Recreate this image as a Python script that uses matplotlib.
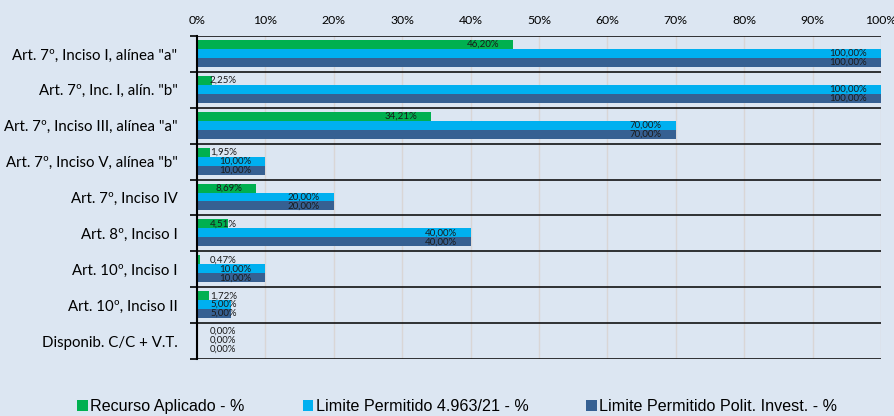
import matplotlib
matplotlib.use("Agg")
import matplotlib.pyplot as plt
import matplotlib.transforms as mtransforms
from matplotlib.patches import Patch
import numpy as np

categories = ['Art. 7º, Inciso I, alínea "a"', 'Art. 7º, Inc. I, alín. "b"',
              'Art. 7º, Inciso III, alínea "a"', 'Art. 7º, Inciso V, alínea "b"',
              'Art. 7º, Inciso IV', 'Art. 8º, Inciso I', 'Art. 10º, Inciso I',
              'Art. 10º, Inciso II', 'Disponib. C/C + V.T.']
recurso = [46.20, 2.25, 34.21, 1.95, 8.69, 4.51, 0.47, 1.72, 0.00]
limite_res = [100.00, 100.00, 70.00, 10.00, 20.00, 40.00, 10.00, 5.00, 0.00]
limite_pol = [100.00, 100.00, 70.00, 10.00, 20.00, 40.00, 10.00, 5.00, 0.00]
series_names = ['Recurso Aplicado - %', 'Limite Permitido 4.963/21 - %',
                'Limite Permitido Polit. Invest. - %']
xticks = [0, 10, 20, 30, 40, 50, 60, 70, 80, 90, 100]

colors = ['#00B050', '#00B0F0', '#366092']
bg = '#DCE6F2'
cat_font = 'Lato'
lab_font = 'Lato'

fig = plt.figure(figsize=(8.95, 4.16), dpi=100, facecolor=bg)
ax = fig.add_axes([197/895, 1 - 359/416, (881-197)/895, (359-36)/416])
ax.set_facecolor(bg)

n = len(categories)
y = np.arange(n)
bh = 0.25
offs = [-0.25, 0.0, 0.25]
shift = -0.014
all_series = [recurso, limite_res, limite_pol]
for s, vals in enumerate(all_series):
    ax.barh(y + offs[s] + shift, vals, height=bh, color=colors[s], zorder=3)

ax.set_xlim(0, 100)
ax.set_ylim(n - 0.5, -0.5)
ax.set_xticks(xticks)
ax.set_xticklabels([f'{t}%' for t in xticks], fontsize=8.8, family='Lato')
ax.xaxis.tick_top()
ax.tick_params(axis='x', length=0, pad=7)
ax.grid(axis='x', color='#D9D6D6', linewidth=1, zorder=0)

ax.set_yticks(y)
ax.set_yticklabels(categories, fontsize=10.8, family=cat_font)
ax.tick_params(axis='y', length=0, pad=14)
ax.set_yticks(np.arange(n + 1) - 0.5, minor=True)
ax.tick_params(axis='y', which='minor', length=5, width=1.2, color='black')

for b in np.arange(n + 1) - 0.5:
    ax.axhline(b, color='black', linewidth=1.1, zorder=4)

for sp in ['top', 'right', 'bottom']:
    ax.spines[sp].set_visible(False)
ax.spines['left'].set_color('black')
ax.spines['left'].set_linewidth(1.5)
ax.spines['left'].set_zorder(5)

fig.canvas.draw()
renderer = fig.canvas.get_renderer()
ax_left_px = ax.transAxes.transform((0, 0))[0]
for s, vals in enumerate(all_series):
    for i, v in enumerate(vals):
        yy = i + offs[s] + shift
        txt = f'{v:.2f}%'.replace('.', ',')
        tr = mtransforms.offset_copy(ax.transData, fig=fig, x=-14, y=0, units='dots')
        t = ax.text(v, yy, txt, ha='right', va='center', fontsize=7,
                    family=lab_font, color='#1a1a1a', transform=tr, zorder=6)
        ext = t.get_window_extent(renderer)
        if ext.x0 < ax_left_px + 13:
            t.remove()
            tr2 = mtransforms.offset_copy(
                mtransforms.blended_transform_factory(ax.transAxes, ax.transData),
                fig=fig, x=13, y=0, units='dots')
            ax.text(0, yy, txt, ha='left', va='center', fontsize=7,
                    family=lab_font, color='#1a1a1a', transform=tr2, zorder=6)

handles = [Patch(facecolor=c, edgecolor='none') for c in colors]
fig.legend(handles, series_names, loc='center', bbox_to_anchor=(0.511, 0.022),
           ncol=3, frameon=False, prop={'family': 'Liberation Sans', 'size': 11.6},
           handlelength=0.65, handleheight=0.65, handletextpad=0.15, columnspacing=3.6)

fig.savefig('out.png', dpi=100, facecolor=bg)
